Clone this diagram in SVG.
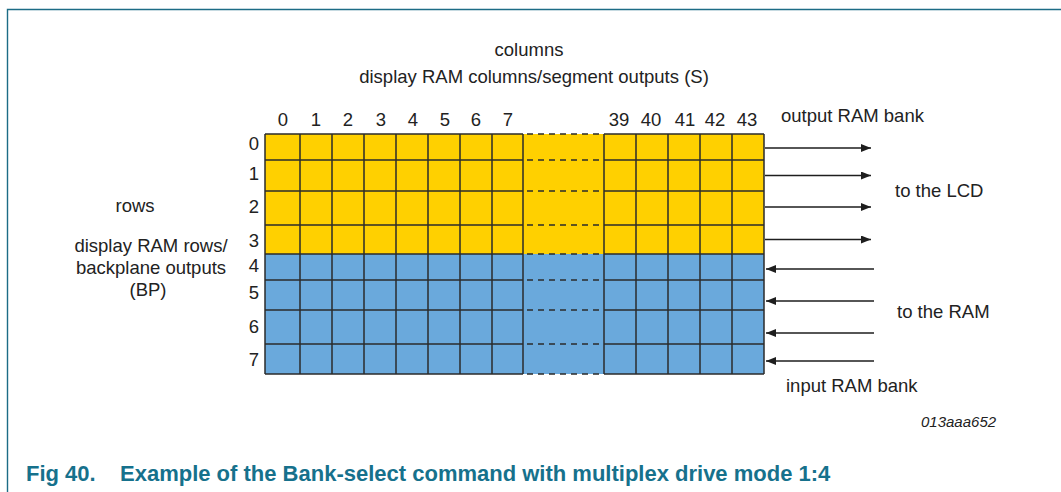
<svg xmlns="http://www.w3.org/2000/svg" width="1061" height="492" viewBox="0 0 1061 492">
<style>
.t{font-family:"Liberation Sans",Arial,sans-serif;font-size:18.5px;fill:#222}
.m{text-anchor:middle}
.e{text-anchor:end}
.g{stroke:#2b2b2b;stroke-width:1.5;fill:none}
.d{stroke:#2b2b2b;stroke-width:1.5;stroke-dasharray:6 5;fill:none}
.a{stroke:#1e1e1e;stroke-width:1.3;fill:none}
.frame{stroke:#1c6c86;stroke-width:1.4;fill:none}
.title{font-family:"Liberation Sans",Arial,sans-serif;font-size:22px;font-weight:bold;fill:#16718c}
.code{font-family:"Liberation Sans",Arial,sans-serif;font-size:15px;font-style:italic;fill:#222}
</style>
<defs>
<marker id="ah" viewBox="0 0 10 8" refX="10" refY="4" markerWidth="10" markerHeight="8" markerUnits="userSpaceOnUse" orient="auto">
<path d="M0,0 L10,4 L0,8 Z" fill="#1e1e1e"/>
</marker>
</defs>
<rect width="1061" height="492" fill="#fff"/>
<g id="frame">
<path class="frame" d="M7.5,492 V9.5 H1061"/>
</g>
<g id="top-labels">
<text class="t m" x="529" y="56">columns</text>
<text class="t m" x="534" y="83">display RAM columns/segment outputs (S)</text>
</g>
<g id="column-numbers">
<text class="t m" x="283" y="126">0</text>
<text class="t m" x="316" y="126">1</text>
<text class="t m" x="348" y="126">2</text>
<text class="t m" x="381" y="126">3</text>
<text class="t m" x="413" y="126">4</text>
<text class="t m" x="445" y="126">5</text>
<text class="t m" x="476" y="126">6</text>
<text class="t m" x="508" y="126">7</text>
<text class="t m" x="619" y="126">39</text>
<text class="t m" x="651" y="126">40</text>
<text class="t m" x="685" y="126">41</text>
<text class="t m" x="715" y="126">42</text>
<text class="t m" x="747" y="126">43</text>
</g>
<g id="row-numbers">
<text class="t e" x="259" y="150">0</text>
<text class="t e" x="259" y="180">1</text>
<text class="t e" x="259" y="213">2</text>
<text class="t e" x="259" y="247">3</text>
<text class="t e" x="259" y="272">4</text>
<text class="t e" x="259" y="299">5</text>
<text class="t e" x="259" y="333">6</text>
<text class="t e" x="259" y="366">7</text>
</g>
<g id="left-labels">
<text class="t m" x="135" y="212">rows</text>
<text class="t m" x="151" y="252">display RAM rows/</text>
<text class="t m" x="151" y="274">backplane outputs</text>
<text class="t m" x="148" y="296">(BP)</text>
</g>
<g id="output-bank">
<rect x="265" y="134" width="499" height="120" fill="#ffd000"/>
</g>
<g id="input-bank">
<rect x="265" y="254" width="499" height="120" fill="#6aa9dc"/>
</g>
<g id="grid">
<path class="g" d="M265,134 V374 M300,134 V374 M332,134 V374 M364,134 V374 M396,134 V374 M428,134 V374 M460,134 V374 M492,134 V374 M523,134 V374 M604,134 V374 M636,134 V374 M668,134 V374 M700,134 V374 M732,134 V374 M764,134 V374"/>
<path class="g" d="M265,134 H523 M265,160 H523 M265,191 H523 M265,225 H523 M265,254 H523 M265,280 H523 M265,310 H523 M265,344 H523 M265,374 H523 M604,134 H764 M604,160 H764 M604,191 H764 M604,225 H764 M604,254 H764 M604,280 H764 M604,310 H764 M604,344 H764 M604,374 H764"/>
<path class="d" d="M527,134 H604 M527,160 H604 M527,191 H604 M527,225 H604 M527,254 H604 M527,280 H604 M527,310 H604 M527,344 H604 M527,374 H604"/>
</g>
<g id="connectors">
<path class="a" d="M765,148 H871" marker-end="url(#ah)"/>
<path class="a" d="M765,175.5 H871" marker-end="url(#ah)"/>
<path class="a" d="M765,207 H871" marker-end="url(#ah)"/>
<path class="a" d="M765,239.5 H871" marker-end="url(#ah)"/>
<path class="a" d="M874,269 H766" marker-end="url(#ah)"/>
<path class="a" d="M874,301 H766" marker-end="url(#ah)"/>
<path class="a" d="M874,333 H766" marker-end="url(#ah)"/>
<path class="a" d="M874,361 H766" marker-end="url(#ah)"/>
</g>
<g id="right-labels">
<text class="t" x="781" y="122">output RAM bank</text>
<text class="t" x="895" y="197">to the LCD</text>
<text class="t" x="897" y="318">to the RAM</text>
<text class="t" x="786" y="392">input RAM bank</text>
</g>
<g id="caption">
<text class="code" x="921" y="427">013aaa652</text>
<text class="title" x="26" y="481">Fig 40.</text>
<text class="title" x="120" y="481">Example of the Bank-select command with multiplex drive mode 1:4</text>
</g>
</svg>
